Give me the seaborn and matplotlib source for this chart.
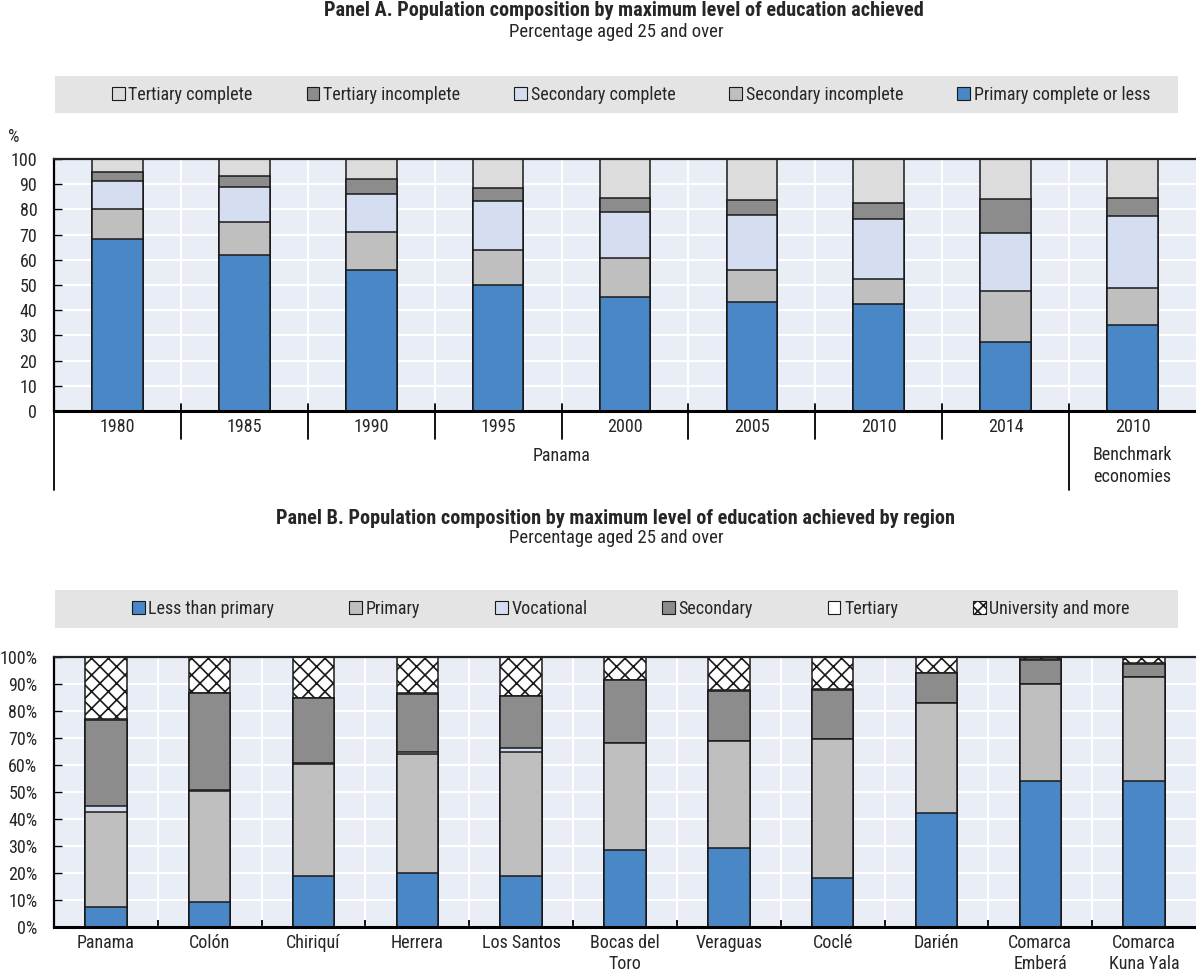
import matplotlib
matplotlib.use("Agg")
import matplotlib.pyplot as plt
import matplotlib.transforms as mtransforms
import matplotlib.font_manager as fm
from matplotlib.patches import Patch, Rectangle
import numpy as np
import seaborn as sns

sns.set_theme(style="white")


def narrow_family():
    """Return (family, stretch) for the narrowest sans face available."""
    fonts = fm.fontManager.ttflist
    names = {f.name for f in fonts}
    for fam in ["Liberation Sans Narrow", "Arial Narrow", "Roboto Condensed",
                "Noto Sans Condensed", "Open Sans Condensed", "DejaVu Sans Condensed",
                "Noto Sans SemiCondensed", "Open Sans SemiCondensed"]:
        if fam in names:
            return fam, "normal"
    for stretch in ["condensed", "semi-condensed"]:
        for fam in ["Noto Sans", "Open Sans", "Roboto", "DejaVu Sans", "Liberation Sans", "Lato", "Inter"]:
            for f in fonts:
                if f.name == fam and f.stretch == stretch and f.style == "normal":
                    return fam, stretch
    for f in fonts:
        low = f.name.lower()
        if ("narrow" in low or "condensed" in low) and "mono" not in low and "serif" not in low:
            return f.name, "normal"
    return "Liberation Sans", "normal"


FAMILY, STRETCH = narrow_family()
plt.rcParams["font.family"] = [FAMILY, "DejaVu Sans"]
plt.rcParams["font.stretch"] = STRETCH
plt.rcParams["hatch.linewidth"] = 1.2

# ---------------- Panel A: Panama over time vs benchmark ----------------
years = ["1980", "1985", "1990", "1995", "2000", "2005", "2010", "2014", "2010"]
group_panama = "Panama"
group_benchmark = "Benchmark\neconomies"
primary_or_less = [68.3, 62.1, 55.8, 50.0, 45.4, 43.1, 42.3, 27.5, 34.0]
secondary_incomplete = [11.7, 12.9, 15.2, 14.0, 15.3, 12.7, 10.1, 20.3, 15.0]
secondary_complete = [11.4, 14.0, 15.1, 19.2, 18.4, 21.9, 23.6, 22.9, 28.4]
tertiary_incomplete = [3.6, 4.4, 5.8, 5.1, 5.5, 5.9, 6.6, 13.3, 7.0]
tertiary_complete = [5.0, 6.6, 8.1, 11.7, 15.4, 16.4, 17.4, 16.0, 15.6]

# ---------------- Panel B: regions ----------------
regions = ["Panama", "Colón", "Chiriquí", "Herrera", "Los Santos", "Bocas del\nToro",
           "Veraguas", "Coclé", "Darién", "Comarca\nEmberá", "Comarca\nKuna Yala"]
less_than_primary = [7.3, 9.1, 18.8, 19.9, 19.0, 28.6, 29.1, 18.0, 42.3, 54.2, 54.2]
primary = [35.3, 41.1, 41.6, 44.3, 45.8, 39.7, 39.7, 51.5, 40.5, 35.8, 38.3]
vocational = [2.2, 0.4, 0.3, 0.6, 1.4, 0.0, 0.2, 0.2, 0.2, 0.0, 0.0]
secondary = [32.0, 36.1, 24.0, 21.6, 19.2, 23.1, 18.5, 18.2, 11.0, 9.0, 5.0]
tertiary = [0.3, 0.1, 0.1, 0.1, 0.1, 0.1, 0.1, 0.1, 0.1, 0.4, 0.2]
university = [22.9, 13.2, 15.2, 13.5, 14.5, 8.5, 12.4, 12.0, 5.9, 0.6, 2.3]

BLUE = "#4A87C6"
LGREY = "#BFBFBF"
LBLUE = "#D5DDF0"
DGREY = "#8C8C8C"
PGREY = "#DCDCDC"
BG = "#E9EDF6"
BAND = "#E4E4E4"
EDGE = "#1A1A1A"
FS = 13
FS_TITLE = 14.6
FS_SUB = 13.5

W, H = 1196, 975
fig = plt.figure(figsize=(W / 100, H / 100), dpi=100)


def fx(px):
    return px / W


def fy(py):
    return 1 - py / H


def stacked(ax, series, colors, hatches, width):
    """Draw stacked bars as overlapping cumulative totals, top layer first."""
    cum = np.cumsum(np.array(series, dtype=float), axis=0)
    n = cum.shape[1]
    for k in range(len(series) - 1, -1, -1):
        sns.barplot(x=np.arange(n), y=cum[k], color=colors[k], saturation=1,
                    width=width, edgecolor=EDGE, linewidth=1.1, hatch=hatches[k],
                    ax=ax, zorder=2)
        for p in ax.patches[-n:]:
            p.set_facecolor(colors[k])


def style_axes(ax, n):
    ax.set_facecolor(BG)
    ax.set_xlim(-0.5, n - 0.5)
    ax.set_ylim(0, 100)
    ax.yaxis.grid(True, color="white", lw=1.6)
    ax.set_axisbelow(True)
    for i in range(n - 1):
        ax.axvline(i + 0.5, color="white", lw=1.6, zorder=0.5)
    ax.spines["right"].set_visible(False)
    ax.spines["bottom"].set_linewidth(2.2)
    ax.spines["bottom"].set_color("black")
    ax.spines["top"].set_linewidth(1.6)
    ax.spines["top"].set_color("#222222")
    ax.spines["left"].set_linewidth(1.6)
    ax.spines["left"].set_color("black")
    ax.set_xlabel("")
    ax.set_ylabel("")
    ax.tick_params(axis="y", direction="in", length=6, width=1, color="black",
                   labelsize=FS, pad=12, left=True)


def legend_band(top_px, bottom_px, handles, labels, spacing):
    fig.patches.append(Rectangle((fx(55), fy(bottom_px)), fx(1178 - 55),
                                 (bottom_px - top_px) / H, transform=fig.transFigure,
                                 facecolor=BAND, edgecolor="none", zorder=0))
    fig.legend(handles, labels, loc="center", ncol=len(labels), frameon=False,
               bbox_to_anchor=(fx(631), fy((top_px + bottom_px) / 2)),
               fontsize=FS, handlelength=0.7, handleheight=0.7, handletextpad=0.2,
               columnspacing=spacing, borderaxespad=0)


# ---------------- Panel A ----------------
axA = fig.add_axes([fx(54), fy(411), fx(1196 - 54), (411 - 159) / H])
stacked(axA,
        [primary_or_less, secondary_incomplete, secondary_complete,
         tertiary_incomplete, tertiary_complete],
        [BLUE, LGREY, LBLUE, DGREY, PGREY], [None] * 5, 0.4)
style_axes(axA, len(years))
axA.set_yticks(np.arange(0, 101, 10))
axA.set_xticks(range(len(years)))
axA.set_xticklabels(years, fontsize=FS)
axA.tick_params(axis="x", length=0, pad=5)

trA = mtransforms.blended_transform_factory(axA.transData, axA.transAxes)
for i in range(len(years) - 1):
    top = 0.028
    bottom = -0.315 if i == len(years) - 2 else -0.111
    axA.plot([i + 0.5, i + 0.5], [top, bottom], color="black", lw=1.3,
             transform=trA, clip_on=False)
axA.plot([-0.5, -0.5], [0, -0.315], color="black", lw=1.3, transform=trA, clip_on=False)
axA.text(3.5, -0.179, group_panama, transform=trA, ha="center", va="center", fontsize=FS)
axA.text(8, -0.14, group_benchmark, transform=trA, ha="center", va="top",
         fontsize=FS, linespacing=1.3)

fig.text(fx(14), fy(137), "%", ha="center", va="center", fontsize=FS)
fig.text(fx(624), fy(11), "Panel A. Population composition by maximum level of education achieved",
         ha="center", va="center", fontsize=FS_TITLE, fontweight="bold")
fig.text(fx(616), fy(32), "Percentage aged 25 and over", ha="center", va="center", fontsize=FS_SUB)

handlesA = [Patch(facecolor=c, edgecolor=EDGE, lw=0.8) for c in [PGREY, DGREY, LBLUE, LGREY, BLUE]]
labelsA = ["Tertiary complete", "Tertiary incomplete", "Secondary complete",
           "Secondary incomplete", "Primary complete or less"]
legend_band(76, 113, handlesA, labelsA, 3.0)

# ---------------- Panel B ----------------
axB = fig.add_axes([fx(54), fy(927), fx(1196 - 54), (927 - 657) / H])
stacked(axB,
        [less_than_primary, primary, vocational, secondary, tertiary, university],
        [BLUE, LGREY, LBLUE, DGREY, "white", "white"],
        [None, None, None, None, None, "xx"], 0.4)
style_axes(axB, len(regions))
axB.set_yticks(np.arange(0, 101, 10))
axB.set_yticklabels([f"{v}%" for v in range(0, 101, 10)])
axB.set_xticks(range(len(regions)))
axB.set_xticklabels(regions, fontsize=FS, linespacing=1.2)
axB.tick_params(axis="x", length=0, pad=5)
axB.set_xticks(np.arange(0.5, len(regions) - 1, 1), minor=True)
axB.tick_params(axis="x", which="minor", direction="in", length=5, width=1.3,
                color="black", bottom=True)

fig.text(fx(616), fy(518), "Panel B. Population composition by maximum level of education achieved by region",
         ha="center", va="center", fontsize=FS_TITLE, fontweight="bold")
fig.text(fx(616), fy(538), "Percentage aged 25 and over", ha="center", va="center", fontsize=FS_SUB)

handlesB = [Patch(facecolor=BLUE, edgecolor=EDGE, lw=0.8),
            Patch(facecolor=LGREY, edgecolor=EDGE, lw=0.8),
            Patch(facecolor=LBLUE, edgecolor=EDGE, lw=0.8),
            Patch(facecolor=DGREY, edgecolor=EDGE, lw=0.8),
            Patch(facecolor="white", edgecolor=EDGE, lw=0.8),
            Patch(facecolor="white", edgecolor=EDGE, lw=0.8, hatch="xxx")]
labelsB = ["Less than primary", "Primary", "Vocational", "Secondary", "Tertiary",
           "University and more"]
legend_band(590, 628, handlesB, labelsB, 4.15)

fig.savefig("out.png", dpi=100, facecolor="white")
